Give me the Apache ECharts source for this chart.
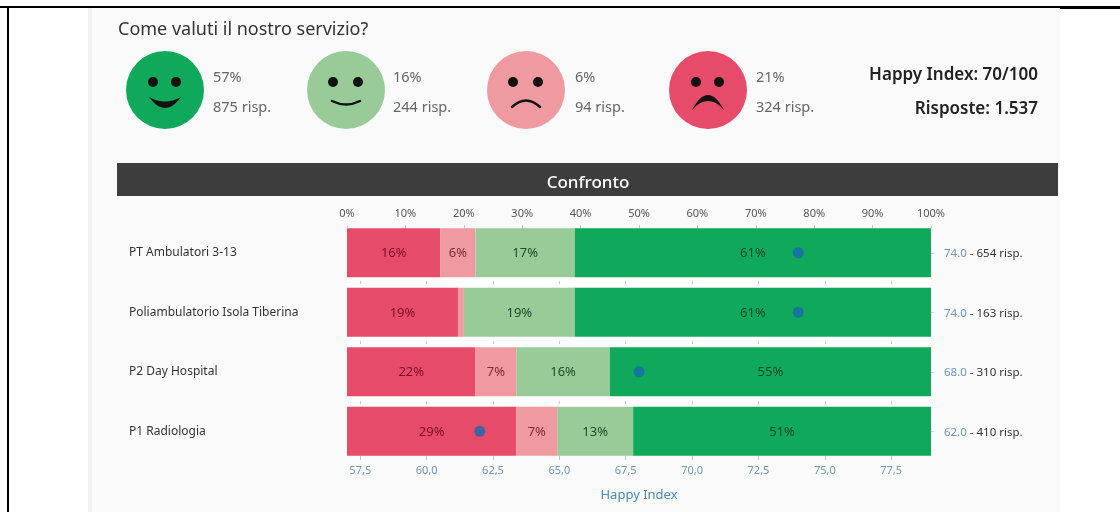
<!DOCTYPE html>
<html>
<head>
<meta charset="utf-8">
<style>
html, body { margin: 0; padding: 0; background: #fff; }
#main { width: 1120px; height: 512px; }
</style>
<script src="https://cdn.jsdelivr.net/npm/echarts@6/dist/echarts.min.js"></script>
</head>
<body>
<div id="main"></div>
<script>
var reparti = ['PT Ambulatori 3-13', 'Poliambulatorio Isola Tiberina', 'P2 Day Hospital', 'P1 Radiologia'];
var rossi = [16, 19, 22, 29];
var rosa = [6, 1, 7, 7];
var verdiChiari = [17, 19, 16, 13];
var verdi = [61, 61, 55, 51];
var happyIndex = [74.0, 74.0, 68.0, 62.0];
var risposte = [654, 163, 310, 410];
var tickHappy = [57.5, 60, 62.5, 65, 67.5, 70, 72.5, 75, 77.5];

var facce = ['57%', '16%', '6%', '21%'];
var facceRisp = ['875 risp.', '244 risp.', '94 risp.', '324 risp.'];

var font = '"Noto Sans", sans-serif';
var colori = ['#e64c6a', '#ef9aa1', '#98cb98', '#10a85a'];

function testo(x, y, t, size, color, align, weight) {
    return {
        type: 'text', x: x, y: y, z: 5,
        style: { text: t, font: (weight || 400) + ' ' + size + 'px ' + font, fill: color, align: align || 'left', verticalAlign: 'middle' }
    };
}
function occhio(x) {
    return { type: 'circle', z: 4, shape: { cx: x, cy: 82, r: 5 }, style: { fill: '#111' } };
}
function bocca(x1, x2, y, cy, w) {
    return {
        type: 'bezierCurve', z: 4,
        shape: { x1: x1, y1: y, x2: x2, y2: y, cpx1: (x1 + x2) / 2, cpy1: cy },
        style: { stroke: '#111', lineWidth: w, fill: null, lineCap: 'round' }
    };
}
// bocca piena a mezzaluna: due curve tra gli stessi angoli
function mezzaluna(x1, x2, y, cpA, cpB) {
    var punti = [], mx = (x1 + x2) / 2;
    function curva(cp, inverso) {
        for (var k = 0; k <= 16; k++) {
            var t = inverso ? 1 - k / 16 : k / 16;
            punti.push([
                (1 - t) * (1 - t) * x1 + 2 * t * (1 - t) * mx + t * t * x2,
                (1 - t) * (1 - t) * y + 2 * t * (1 - t) * cp + t * t * y
            ]);
        }
    }
    curva(cpA, false);
    curva(cpB, true);
    return { type: 'polygon', z: 4, shape: { points: punti }, style: { fill: '#111' } };
}
function striscia(y, h) {
    return { type: 'rect', z: 0, shape: { x: 347, y: y, width: 584, height: h }, style: { fill: '#fff' } };
}

var graphic = [
    // cornice e pannello
    { type: 'rect', z: 0, shape: { x: 92, y: 8, width: 968, height: 504 }, style: { fill: '#fafafa' } },
    { type: 'rect', z: 0, shape: { x: 88, y: 8, width: 4, height: 504 }, style: { fill: '#f1f1f1' } },
    { type: 'rect', z: 1, shape: { x: 0, y: 6, width: 1120, height: 2 }, style: { fill: '#000' } },
    { type: 'rect', z: 1, shape: { x: 1060, y: 6, width: 60, height: 3 }, style: { fill: '#000' } },
    { type: 'rect', z: 1, shape: { x: 7, y: 6, width: 2, height: 506 }, style: { fill: '#000' } },
    { type: 'rect', z: 1, shape: { x: 117, y: 163, width: 941, height: 33 }, style: { fill: '#3d3d3d' } },
    striscia(277, 10), striscia(337, 11), striscia(396, 11),
    testo(118, 30, 'Come valuti il nostro servizio?', 18, '#333'),
    testo(588, 183, 'Confronto', 17, '#fff', 'center', 500),
    testo(1038, 75, 'Happy Index: 70/100', 17, '#222', 'right', 600),
    testo(1038, 109, 'Risposte: 1.537', 17, '#222', 'right', 600),
    // faccine
    { type: 'circle', z: 3, shape: { cx: 165, cy: 90, r: 39 }, style: { fill: colori[3] } },
    occhio(153), occhio(176), mezzaluna(149, 181, 97, 106, 119),
    { type: 'circle', z: 3, shape: { cx: 346, cy: 90, r: 39 }, style: { fill: colori[2] } },
    occhio(333), occhio(358), bocca(332, 360, 101, 108, 2.5),
    { type: 'circle', z: 3, shape: { cx: 526, cy: 90, r: 39 }, style: { fill: colori[1] } },
    occhio(513), occhio(538), bocca(512, 540, 107, 94, 2.5),
    { type: 'circle', z: 3, shape: { cx: 708, cy: 90, r: 39 }, style: { fill: colori[0] } },
    occhio(696), occhio(719), mezzaluna(692, 724, 110, 80, 92)
];
[213, 393, 575, 756].forEach(function (x, i) {
    graphic.push(testo(x, 78, facce[i], 14.5, '#666'));
    graphic.push(testo(x, 108, facceRisp[i], 14.5, '#666'));
});

function serieBarra(nome, dati, colore, testoColore) {
    return {
        name: nome, type: 'bar', stack: 'tot', xAxisIndex: 0, yAxisIndex: 0,
        barWidth: 49, data: dati,
        itemStyle: { color: colore },
        label: {
            show: true, position: 'inside', offset: [0, 1], color: testoColore, fontFamily: font, fontSize: 13,
            formatter: function (p) { return p.value < 2 ? '' : p.value + '%'; }
        }
    };
}
// tacche dell'Happy Index nelle strisce bianche tra le barre
function assePiccolo(offset) {
    return {
        type: 'value', position: 'bottom', offset: offset, min: 57, max: 79,
        axisLine: { show: false },
        axisTick: { show: true, length: 3, customValues: tickHappy, lineStyle: { color: '#c8c8c8' } },
        splitLine: { show: false },
        axisLabel: { show: false }
    };
}

var myChart = echarts.init(document.getElementById('main'));
var option = {
    animation: false,
    backgroundColor: '#fff',
    graphic: graphic,
    grid: { left: 347, width: 584, top: 223, height: 238 },
    xAxis: [
        {
            type: 'value', position: 'top', offset: -5, min: 0, max: 100, interval: 10,
            axisLine: { show: false },
            axisTick: { show: true, length: 3, lineStyle: { color: '#c8c8c8' } },
            splitLine: { show: false },
            axisLabel: { color: '#555', fontFamily: font, fontSize: 11, margin: 9, formatter: '{value}%' }
        },
        {
            type: 'value', position: 'bottom', offset: -5, min: 57, max: 79,
            name: 'Happy Index', nameLocation: 'middle', nameGap: 33,
            nameTextStyle: { color: '#4f86b5', fontFamily: font, fontSize: 13 },
            axisLine: { show: false },
            axisTick: { show: true, length: 4, customValues: tickHappy, lineStyle: { color: '#c8c8c8' } },
            splitLine: { show: false },
            axisLabel: {
                color: '#6f93b5', fontFamily: font, fontSize: 11, margin: 9, customValues: tickHappy,
                formatter: function (v) { return v.toFixed(1).replace('.', ','); }
            }
        },
        assePiccolo(-180), assePiccolo(-120), assePiccolo(-60)
    ],
    yAxis: [
        {
            type: 'category', inverse: true, data: reparti,
            axisLine: { show: false },
            axisTick: { show: false },
            axisLabel: { color: '#333', fontFamily: font, fontSize: 12, align: 'left', margin: 218, padding: [4, 0, 0, 0] }
        },
        {
            type: 'category', inverse: true, position: 'right', data: reparti,
            axisLine: { show: false },
            axisTick: { show: true, alignWithLabel: true, length: 3, lineStyle: { color: '#d0d0d0' } },
            axisLabel: {
                margin: 13, fontFamily: font, fontSize: 11.5, align: 'left', padding: [2, 0, 0, 0],
                formatter: function (v, i) {
                    return '{h|' + happyIndex[i].toFixed(1) + '}{r| - ' + risposte[i] + ' risp.}';
                },
                rich: {
                    h: { color: '#6f93b5', fontFamily: font, fontSize: 11.5 },
                    r: { color: '#333', fontFamily: font, fontSize: 11.5 }
                }
            }
        }
    ],
    series: [
        serieBarra('Molto insoddisfatti', rossi, colori[0], '#7d0f28'),
        serieBarra('Insoddisfatti', rosa, colori[1], '#7d2a35'),
        serieBarra('Soddisfatti', verdiChiari, colori[2], '#1c4d2a'),
        serieBarra('Molto soddisfatti', verdi, colori[3], '#0a4d2a'),
        {
            name: 'Happy Index', type: 'scatter', xAxisIndex: 1, yAxisIndex: 0, z: 10,
            symbolSize: 11,
            itemStyle: { color: '#1769b0' },
            data: happyIndex.map(function (v, i) { return [v, i]; })
        }
    ]
};
myChart.setOption(option);
</script>
</body>
</html>
